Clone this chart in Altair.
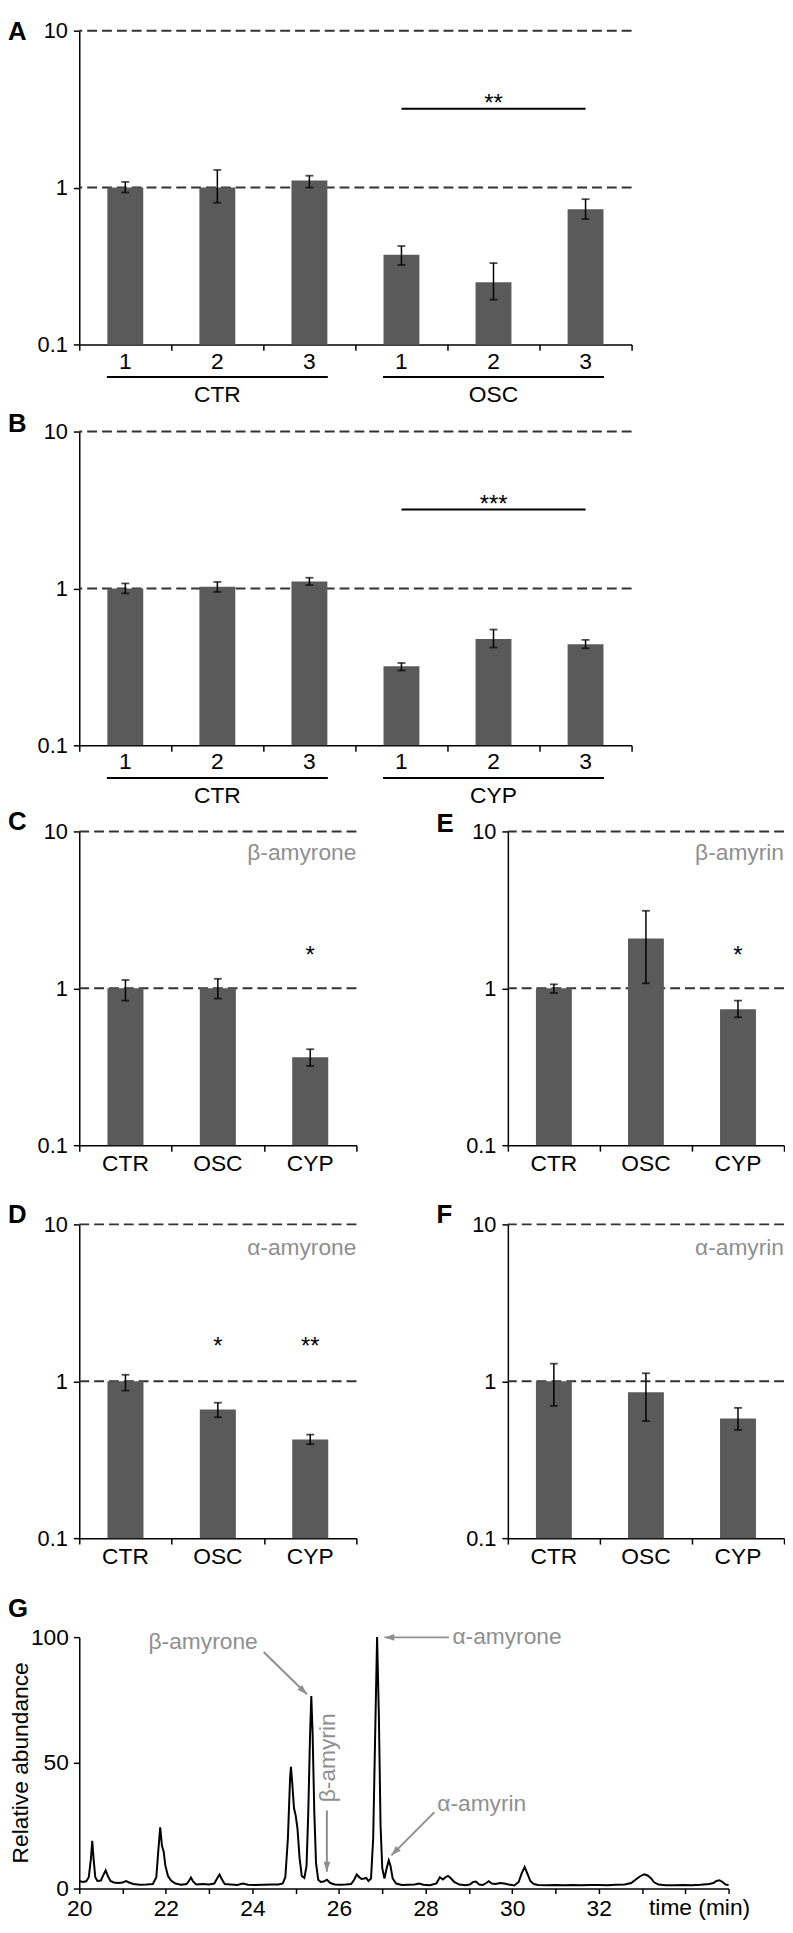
import altair as alt
import pandas as pd

FONT = "Liberation Sans, Arial, Helvetica, sans-serif"
BAR = "#5a5a5a"
GREY = "#8f8f8f"

# ---------------- data ----------------
# Panel A
A_labels = ["1", "2", "3", "1", "2", "3"]
A_values = [1.0, 1.0, 1.11, 0.373, 0.249, 0.728]
A_lo = [0.93, 0.80, 1.0, 0.321, 0.193, 0.63]
A_hi = [1.087, 1.295, 1.19, 0.424, 0.33, 0.843]
A_groups = ["CTR", "OSC"]
A_sig = "**"

# Panel B
B_labels = ["1", "2", "3", "1", "2", "3"]
B_values = [1.0, 1.025, 1.108, 0.319, 0.476, 0.44]
B_lo = [0.93, 0.95, 1.05, 0.30, 0.42, 0.415]
B_hi = [1.076, 1.10, 1.17, 0.335, 0.547, 0.47]
B_groups = ["CTR", "CYP"]
B_sig = "***"

sig_line_y = 3.18
sig_star_y = 3.73

# Panels C-F
lines3 = ["CTR", "OSC", "CYP"]
C_values = [1.0, 1.0, 0.363]
C_lo = [0.835, 0.86, 0.32]
C_hi = [1.13, 1.15, 0.409]
C_stars = ["", "", "*"]
E_values = [1.0, 2.08, 0.735]
E_lo = [0.934, 1.076, 0.654]
E_hi = [1.06, 3.12, 0.835]
E_stars = ["", "", "*"]
D_values = [1.0, 0.66, 0.425]
D_lo = [0.872, 0.59, 0.397]
D_hi = [1.10, 0.73, 0.457]
D_stars = ["", "*", "**"]
F_values = [1.0, 0.85, 0.578]
F_lo = [0.697, 0.557, 0.49]
F_hi = [1.295, 1.125, 0.677]

# Panel G chromatogram
G_time = [20.00, 20.08, 20.16, 20.22, 20.27, 20.30, 20.33, 20.37, 20.42, 20.50,
          20.56, 20.61, 20.66, 20.72, 20.80, 20.90, 21.00, 21.08, 21.15, 21.25,
          21.40, 21.55, 21.70, 21.78, 21.83, 21.87, 21.91, 21.95, 21.99, 22.05,
          22.12, 22.22, 22.35, 22.48, 22.54, 22.58, 22.63, 22.70, 22.85, 23.00,
          23.12, 23.19, 23.24, 23.29, 23.36, 23.50, 23.65, 23.78, 23.90, 24.05,
          24.25, 24.45, 24.60, 24.70, 24.76, 24.82, 24.87, 24.89, 24.92, 24.96,
          25.00, 25.04, 25.09, 25.14, 25.20, 25.25, 25.29, 25.33, 25.36, 25.39,
          25.43, 25.47, 25.52, 25.58, 25.65, 25.72, 25.80, 25.90, 26.00, 26.15,
          26.28, 26.35, 26.41, 26.47, 26.52, 26.58, 26.63, 26.68, 26.74, 26.79,
          26.84, 26.88, 26.92, 26.96, 27.00, 27.05, 27.10, 27.15, 27.19, 27.24,
          27.32, 27.45, 27.60, 27.75, 27.85, 27.95, 28.10, 28.25, 28.33, 28.40,
          28.46, 28.52, 28.58, 28.66, 28.78, 28.92, 29.02, 29.10, 29.16, 29.24,
          29.32, 29.40, 29.46, 29.53, 29.62, 29.72, 29.82, 29.92, 30.05, 30.15,
          30.22, 30.29, 30.35, 30.42, 30.50, 30.60, 30.80, 31.00, 31.20, 31.40,
          31.60, 31.80, 32.00, 32.20, 32.40, 32.60, 32.75, 32.85, 32.95, 33.05,
          33.13, 33.20, 33.28, 33.38, 33.55, 33.75, 33.95, 34.15, 34.35, 34.55,
          34.65, 34.72, 34.79, 34.86, 34.93, 35.00]
G_abund = [3.0, 2.6, 2.9, 4.5, 12, 19, 12, 4.5, 3.0, 3.2,
           5.5, 7.2, 5.0, 3.0, 2.4, 2.2, 2.4, 3.0, 2.4, 1.8,
           1.5, 1.6, 1.8, 4.5, 16, 24.3, 17, 14.7, 9, 5,
           3.2, 2.0, 1.5, 1.8, 3.2, 4.4, 2.8, 1.6, 1.8, 1.6,
           2.0, 4.2, 5.6, 3.8, 1.8, 1.6, 1.4, 2.0, 1.5, 1.4,
           1.5, 1.6, 1.6, 2.0, 4.5, 20, 44, 48.4, 42, 32,
           29, 24, 12, 5, 4.2, 9, 30, 60, 76.6, 62,
           30, 10, 3.5, 2.6, 2.8, 3.5, 2.2, 1.6, 1.5, 1.6,
           1.8, 3.5, 5.6, 4.5, 3.8, 4.0, 4.2, 3.0, 4.0, 20,
           65, 100, 70, 25, 8, 4, 8, 11.2, 9, 4,
           2.0, 1.4, 1.5, 1.6, 2.0, 1.5, 1.3, 2.0, 4.5, 3.6,
           4.5, 5.0, 4.2, 2.6, 1.6, 1.3, 1.6, 2.6, 2.8, 1.6,
           1.4, 2.2, 2.9, 2.0, 1.8, 2.2, 2.0, 1.6, 1.2, 2.6,
           6, 8.6, 6, 3, 1.8, 1.4, 1.3, 1.4, 1.3, 1.4,
           1.3, 1.4, 1.4, 1.3, 1.5, 1.6, 2.2, 3.5, 4.8, 5.7,
           5.2, 4.2, 2.5, 1.6, 1.3, 1.3, 1.4, 1.3, 1.5, 1.8,
           2.2, 3.0, 3.3, 2.6, 1.6, 1.4]

ann_text = ["β-amyrone", "α-amyrone", "α-amyrin"]
ann_t = [21.6, 28.62, 28.27]
ann_v = [97.9, 99.9, 33.5]
vert_text = ["β-amyrin"]
vert_t = [25.74]
vert_v = [52.0]
arr_t1 = [24.26, 28.54, 25.72, 28.2]
arr_v1 = [94.1, 99.9, 31.1, 30.3]
arr_t2 = [25.26, 27.05, 25.72, 27.21]
arr_v2 = [77.3, 99.9, 6.7, 13.2]
arr_ang = [134, 270, 180, 225]

ONE = pd.DataFrame({"k": [0]})
H = 317
LEFT = 72


def spacer(width, height, top, bottom):
    return alt.Chart(ONE).mark_rule(strokeOpacity=0, strokeWidth=1).encode(
        x=alt.value(-LEFT), x2=alt.value(width),
        y=alt.value(-top), y2=alt.value(height + bottom))


def letter_mark(letter, top):
    return alt.Chart(ONE).mark_text(
        text=letter, font=FONT, fontSize=26, fontWeight="bold", align="left",
        baseline="top", color="black").encode(
        x=alt.value(-LEFT), y=alt.value(top))


def bar_panel(letter, letter_top, labels, values, lo, hi, width, top, bottom,
              lab_dy=18, stars=None, star_y=1.75, compound=None, comp_y=7.2,
              groups=None, sig=None):
    n = len(values)
    xs = alt.Scale(domain=[0, n], nice=False, zero=False)
    ys = alt.Scale(type="log", domain=[0.1, 10], nice=False)
    xaxis = alt.Axis(values=list(range(n + 1)), labels=False, grid=False,
                     tickSize=6, tickWidth=1.5, tickColor="black",
                     domainColor="black", domainWidth=1.5, title=None)
    yaxis = alt.Axis(values=[0.1, 1, 10], grid=False, tickSize=6, tickWidth=1.5,
                     tickColor="black", domainColor="black", domainWidth=1.5,
                     labelExpr="datum.value < 0.5 ? '0.1' : (datum.value < 5 ? '1' : '10')",
                     labelFont=FONT, labelFontSize=22, labelColor="black",
                     labelPadding=6, title=None)

    def X(f):
        return alt.X(f, type="quantitative", scale=xs, axis=xaxis)

    def Y(f):
        return alt.Y(f, type="quantitative", scale=ys, axis=yaxis)

    df = pd.DataFrame({
        "c": [i + 0.5 for i in range(n)],
        "x0": [i + 0.305 for i in range(n)],
        "x1": [i + 0.695 for i in range(n)],
        "v": values, "base": [0.1] * n, "lo": lo, "hi": hi, "lab": labels,
        "star": stars if stars else [""] * n,
        "sy": [star_y] * n,
    })
    layers = [spacer(width, H, top, bottom)]
    gdf = pd.DataFrame({"g": [1, 10]})
    layers.append(alt.Chart(gdf).mark_rule(color="#333333", strokeWidth=2, strokeDash=[10, 5]).encode(y=Y("g")))
    layers.append(alt.Chart(df).mark_bar(color=BAR).encode(x=X("x0"), x2="x1", y=Y("v"), y2="base"))
    layers.append(alt.Chart(df).mark_rule(color="black", strokeWidth=1.5).encode(x=X("c"), y=Y("lo"), y2="hi"))
    layers.append(alt.Chart(df).mark_tick(orient="horizontal", size=8, thickness=1.8, color="black").encode(x=X("c"), y=Y("lo")))
    layers.append(alt.Chart(df).mark_tick(orient="horizontal", size=8, thickness=1.8, color="black").encode(x=X("c"), y=Y("hi")))
    layers.append(alt.Chart(df).mark_text(font=FONT, fontSize=23, baseline="middle", color="black").encode(
        x=X("c"), y=alt.value(H + lab_dy), text="lab:N"))
    if stars:
        layers.append(alt.Chart(df).mark_text(font=FONT, fontSize=24, baseline="middle", dy=6, color="black").encode(
            x=X("c"), y=Y("sy"), text="star:N"))
    if compound:
        cdf = pd.DataFrame({"cx": [n], "cy": [comp_y], "t": [compound]})
        layers.append(alt.Chart(cdf).mark_text(font=FONT, fontSize=23, align="right", baseline="middle", color=GREY).encode(
            x=X("cx"), y=Y("cy"), text="t:N"))
    if groups:
        gr = pd.DataFrame({"g0": [0.3, 3.3], "g1": [2.7, 5.7], "gc": [1.5, 4.5], "name": groups})
        layers.append(alt.Chart(gr).mark_rule(color="black", strokeWidth=2).encode(
            x=X("g0"), x2="g1", y=alt.value(H + 33)))
        layers.append(alt.Chart(gr).mark_text(font=FONT, fontSize=23, baseline="middle", color="black").encode(
            x=X("gc"), y=alt.value(H + 51), text="name:N"))
    if sig:
        sdf = pd.DataFrame({"s0": [3.5], "s1": [5.5], "sc": [4.5], "ly": [sig_line_y], "sy2": [sig_star_y], "t": [sig]})
        layers.append(alt.Chart(sdf).mark_rule(color="black", strokeWidth=2).encode(x=X("s0"), x2="s1", y=Y("ly")))
        layers.append(alt.Chart(sdf).mark_text(font=FONT, fontSize=24, baseline="middle", dy=6, color="black").encode(
            x=X("sc"), y=Y("sy2"), text="t:N"))
    layers.append(letter_mark(letter, letter_top))
    return alt.layer(*layers).properties(width=width, height=H)


pA = bar_panel("A", -12, A_labels, A_values, A_lo, A_hi, 558, 13, 67, lab_dy=18, groups=A_groups, sig=A_sig)
pB = bar_panel("B", -21, B_labels, B_values, B_lo, B_hi, 558, 21, 64, lab_dy=17, groups=B_groups, sig=B_sig)
pC = bar_panel("C", -22, lines3, C_values, C_lo, C_hi, 280, 23, 58, lab_dy=19, stars=C_stars, star_y=1.75, compound="β-amyrone", comp_y=7.3)
pE = bar_panel("E", -20, lines3, E_values, E_lo, E_hi, 279, 23, 58, lab_dy=19, stars=E_stars, star_y=1.75, compound="β-amyrin", comp_y=7.3)
pD = bar_panel("D", -22, lines3, D_values, D_lo, D_hi, 280, 22, 46, lab_dy=19, stars=D_stars, star_y=1.8, compound="α-amyrone", comp_y=7.1)
pF = bar_panel("F", -22, lines3, F_values, F_lo, F_hi, 279, 22, 46, lab_dy=19, compound="α-amyrin", comp_y=7.1)

# ---------------- panel G ----------------
GW, GH = 656, 254
gxs = alt.Scale(domain=[20, 35], nice=False, zero=False)
gys = alt.Scale(domain=[0, 100], nice=False)
gxaxis = alt.Axis(values=list(range(20, 36)), grid=False, tickSize=5, tickWidth=1.5, tickColor="black",
                  domainColor="black", domainWidth=1.5, labelFlush=False,
                  labelExpr="(datum.value % 2 == 0 && datum.value <= 32) ? datum.label : ''",
                  labelFont=FONT, labelFontSize=23, labelColor="black", labelPadding=4, title=None)
gyaxis = alt.Axis(values=[0, 50, 100], grid=False, tickSize=6, tickWidth=1.5, tickColor="black",
                  domainColor="black", domainWidth=1.5, labelFont=FONT, labelFontSize=23,
                  labelColor="black", labelPadding=5, title=None)


def GX(f):
    return alt.X(f, type="quantitative", scale=gxs, axis=gxaxis)


def GY(f):
    return alt.Y(f, type="quantitative", scale=gys, axis=gyaxis)


trace = pd.DataFrame({"t": G_time, "a": G_abund})
arrows = pd.DataFrame({"t1": arr_t1, "v1": arr_v1, "t2": arr_t2, "v2": arr_v2, "ang": arr_ang})
ann = pd.DataFrame({"t": ann_t, "v": ann_v, "s": ann_text})
vann = pd.DataFrame({"t": vert_t, "v": vert_v, "s": vert_text})
tlab = pd.DataFrame({"t": [34.33], "s": ["time (min)"]})

g_layers = [
    spacer(GW, GH, 54, 34),
    alt.Chart(trace).mark_line(color="black", strokeWidth=2).encode(x=GX("t"), y=GY("a")),
    alt.Chart(arrows).mark_rule(color=GREY, strokeWidth=2).encode(x=GX("t1"), y=GY("v1"), x2="t2", y2="v2"),
    alt.Chart(arrows).mark_point(shape="M0,0L-0.5,1.45L0.5,1.45Z", filled=True, color=GREY, opacity=1,
                                 size=190, strokeWidth=0).encode(
        x=GX("t2"), y=GY("v2"), angle=alt.Angle("ang:Q", scale=None)),
    alt.Chart(ann).mark_text(font=FONT, fontSize=23, align="left", baseline="middle", color=GREY).encode(
        x=GX("t"), y=GY("v"), text="s:N"),
    alt.Chart(vann).mark_text(font=FONT, fontSize=23, align="center", baseline="middle", angle=270, color=GREY).encode(
        x=GX("t"), y=GY("v"), text="s:N"),
    alt.Chart(tlab).mark_text(font=FONT, fontSize=23, align="center", baseline="top", color="black").encode(
        x=GX("t"), y=alt.value(GH + 9), text="s:N"),
    alt.Chart(ONE).mark_text(text="Relative abundance", font=FONT, fontSize=23, angle=270, align="center",
                             baseline="middle", color="black").encode(x=alt.value(-59), y=alt.value(GH / 2)),
    letter_mark("G", -41),
]
pG = alt.layer(*g_layers).properties(width=GW, height=GH)

rowCE = alt.hconcat(pC, pE, spacing=80)
rowDF = alt.hconcat(pD, pF, spacing=80)

chart = alt.vconcat(pA, pB, rowCE, rowDF, pG, spacing=0).properties(padding=0).configure_view(strokeWidth=0)

chart.save("out.html", embed_options={"renderer": "svg", "actions": False})
